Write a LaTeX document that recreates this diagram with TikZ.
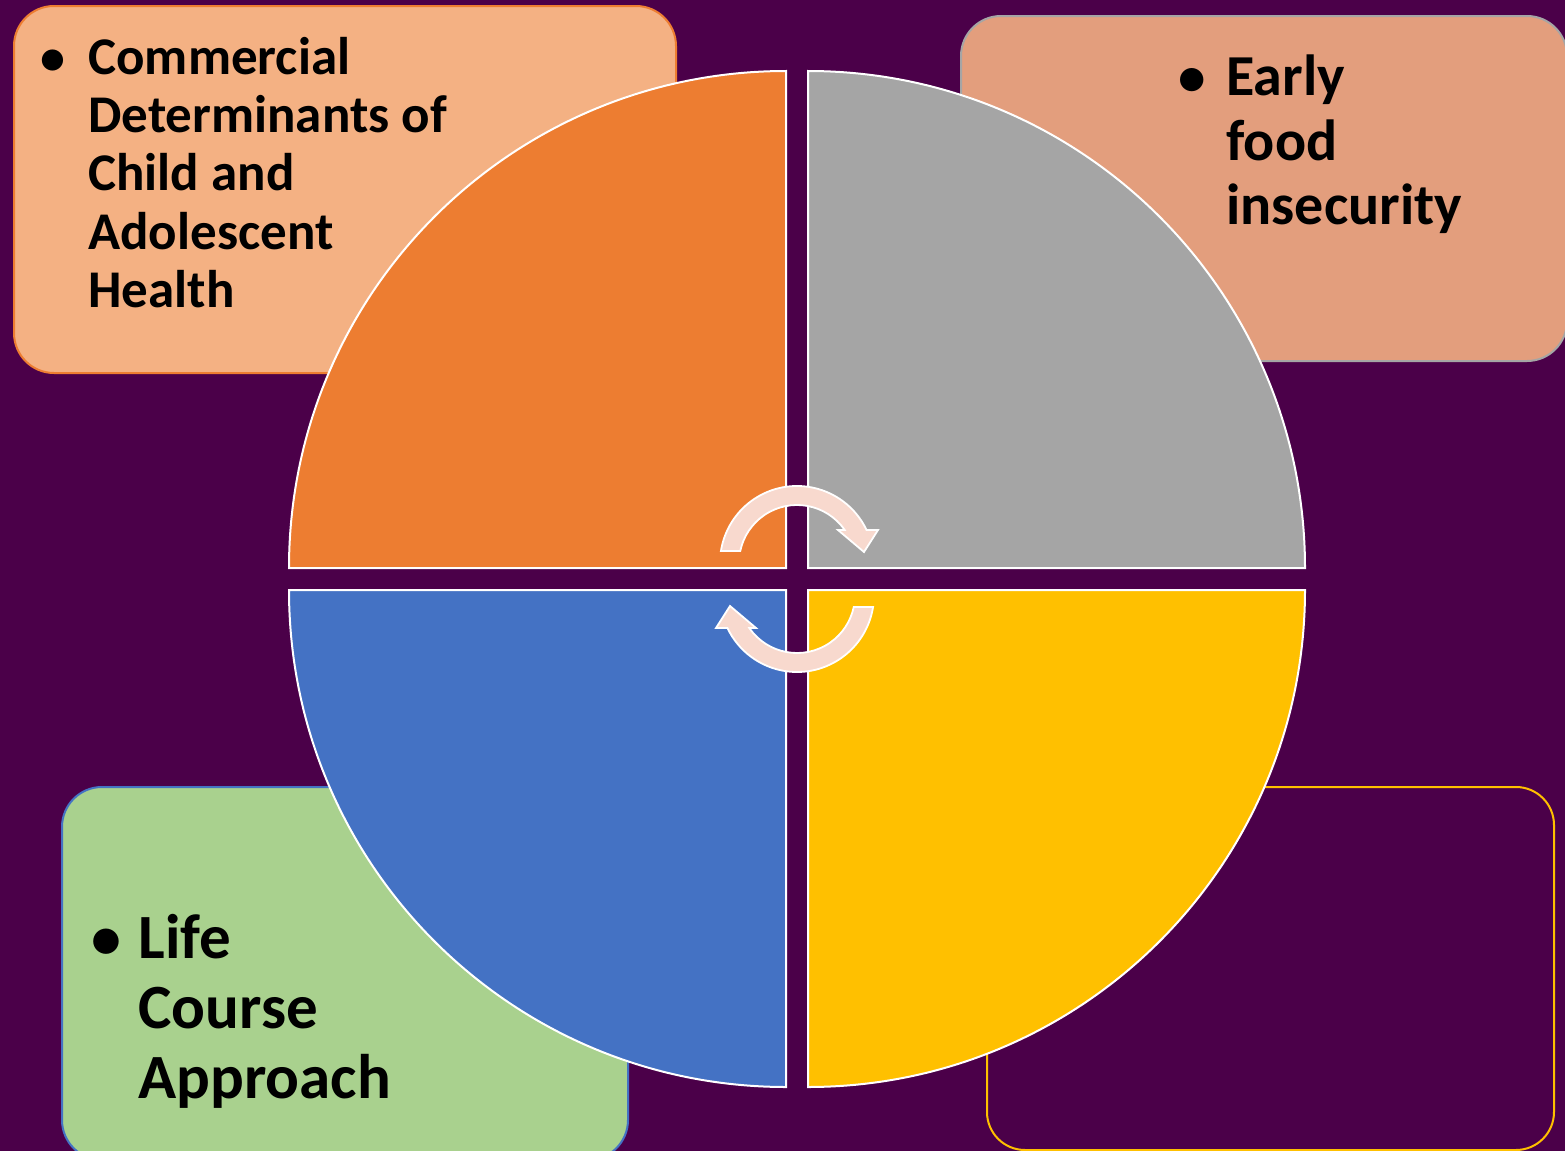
\documentclass[tikz,border=0pt]{standalone}
\usepackage{fontspec}
\setmainfont{Carlito}
\definecolor{bgpurple}{RGB}{75,0,73}
\definecolor{tlfill}{RGB}{244,177,131}
\definecolor{tlline}{RGB}{237,125,49}
\definecolor{trfill}{RGB}{227,158,125}
\definecolor{trline}{RGB}{165,165,165}
\definecolor{blfill}{RGB}{169,209,142}
\definecolor{blline}{RGB}{68,114,196}
\definecolor{brline}{RGB}{255,192,0}
\definecolor{qorange}{RGB}{237,125,49}
\definecolor{qgray}{RGB}{165,165,165}
\definecolor{qblue}{RGB}{68,114,196}
\definecolor{qyellow}{RGB}{255,192,0}
\definecolor{arrowfill}{RGB}{248,217,206}
\tikzset{
  infobox/.style={line width=1pt, rounded corners=20pt},
  quadrant/.style={draw=white, line width=1pt},
  cyclearrow/.style={fill=arrowfill, draw=white, line width=0.9pt},
  txt/.style={inner sep=0pt, text=black},
}
\begin{document}
\begin{tikzpicture}[x=0.5pt,y=-0.5pt]
\fill[bgpurple] (0,0) rectangle (1565,1151);
\useasboundingbox (0,0) rectangle (1565,1151);

% boxes
\draw[infobox, fill=tlfill, draw=tlline] (14,6) rectangle (676,373);
\draw[infobox, fill=trfill, draw=trline] (961,16) rectangle (1567,361);
\draw[infobox, fill=blfill, draw=blline] (62,787) rectangle (628,1160);
\draw[infobox, draw=brline, rounded corners=19pt] (987,787) rectangle (1554,1150);

% texts
\node[txt, anchor=base, font=\fontsize{25pt}{29.2pt}\selectfont\bfseries] (tlBullet) at (53,74) {\textbullet};
\node[txt, anchor=base west, font=\fontsize{26.5pt}{29.2pt}\selectfont\bfseries] (tlText) at (88,74)
  {\parbox[t]{300pt}{Commercial\\Determinants of\\Child and\\Adolescent\\Health}};
\node[txt, anchor=base, font=\fontsize{27.5pt}{32.5pt}\selectfont\bfseries] (trBullet) at (1192,95) {\textbullet};
\node[txt, anchor=base west, font=\fontsize{29pt}{32.5pt}\selectfont\bfseries] (trText) at (1226,95)
  {\parbox[t]{200pt}{Early\\food\\insecurity}};
\node[txt, anchor=base, font=\fontsize{30pt}{35pt}\selectfont\bfseries] (blBullet) at (106,958) {\textbullet};
\node[txt, anchor=base west, font=\fontsize{31.5pt}{35pt}\selectfont\bfseries] (blText) at (138,958)
  {\parbox[t]{250pt}{Life\\Course\\Approach}};

% quadrants
\filldraw[quadrant, fill=qorange] (786,568) -- (786,71) arc[start angle=270, end angle=180, radius=497] -- cycle;
\filldraw[quadrant, fill=qgray] (808,568) -- (808,71) arc[start angle=270, end angle=360, radius=497] -- cycle;
\filldraw[quadrant, fill=qblue] (786,590) -- (289,590) arc[start angle=180, end angle=90, radius=497] -- cycle;
\filldraw[quadrant, fill=qyellow] (808,590) -- (1305,590) arc[start angle=0, end angle=90, radius=497] -- cycle;

% cycle arrows
\filldraw[cyclearrow] (720.95,550.95) arc[start angle=189, end angle=334.6, radius=77]
  -- (878,530) -- (864,552) -- (838,530) -- (844.68,529.98)
  arc[start angle=325.3, end angle=192, radius=58] -- cycle;
\begin{scope}[rotate around={180:(797,579)}]
\filldraw[cyclearrow] (720.95,550.95) arc[start angle=189, end angle=334.6, radius=77]
  -- (878,530) -- (864,552) -- (838,530) -- (844.68,529.98)
  arc[start angle=325.3, end angle=192, radius=58] -- cycle;
\end{scope}
\end{tikzpicture}
\end{document}
